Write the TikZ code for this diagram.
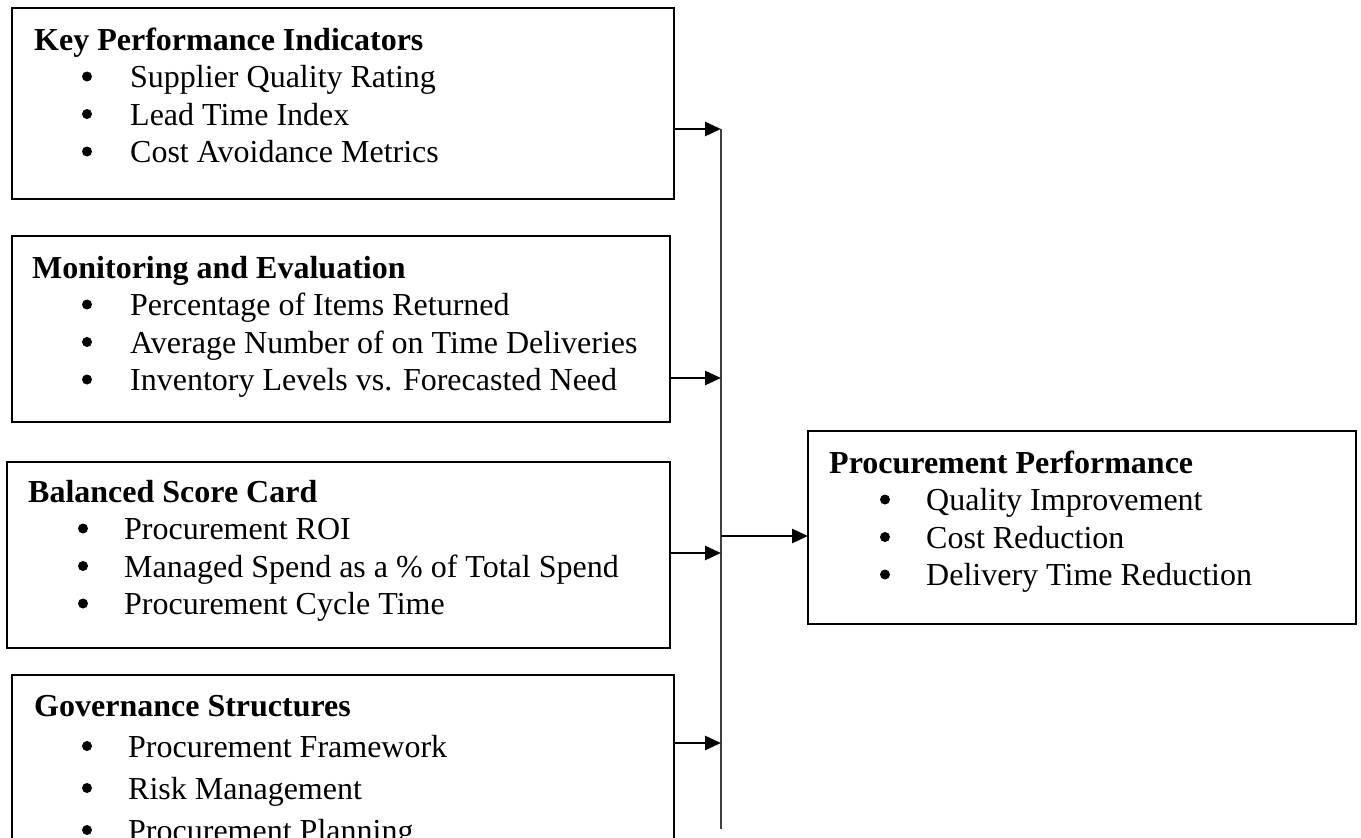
\documentclass[tikz,border=0pt]{standalone}
\usepackage{fontspec}
\setmainfont{Liberation Serif}
\usetikzlibrary{arrows.meta}
\begin{document}
\begin{tikzpicture}[x=1pt,y=-1pt,
  box/.style={draw=black, line width=2pt, anchor=north west, inner sep=0, outer sep=0},
  head/.style={anchor=base west, inner sep=0, font=\fontsize{32}{38}\selectfont\bfseries},
  item/.style={anchor=base west, inner sep=0, font=\fontsize{32}{38}\selectfont},
  dot/.style={circle, fill=black, inner sep=0, minimum size=10pt},
  arr/.style={line width=2.8pt, -{Triangle[length=16pt,width=14pt]}},
  bus/.style={line width=1.4pt, draw=black!75}]
\useasboundingbox (0,0) rectangle (1361,838);
\clip (0,0) rectangle (1361,838);

% boxes
\node[box, minimum width=662pt, minimum height=191pt] (kpi) at (12,8) {};
\node[box, minimum width=658pt, minimum height=186pt] (me) at (12,236) {};
\node[box, minimum width=663pt, minimum height=186pt] (bsc) at (7,462) {};
\node[box, minimum width=662pt, minimum height=200pt] (gs) at (12,675) {};
\node[box, minimum width=548pt, minimum height=193pt] (pp) at (808,431) {};

% contents
\node[head] (kpi-h) at (34,50) {Key Performance Indicators};
\foreach \t [count=\i] in {Supplier Quality Rating, Lead Time Index, Cost Avoidance Metrics}{
  \node[dot] (kpi-d\i) at (87,50+37.5*\i-11) {};
  \node[item] (kpi-t\i) at (130,50+37.5*\i) {\t};
}
\node[head] (me-h) at (32,278) {Monitoring and Evaluation};
\foreach \t [count=\i] in {Percentage of Items Returned, Average Number of on Time Deliveries, Inventory Levels vs. Forecasted Need}{
  \node[dot] (me-d\i) at (87,278+37.5*\i-11) {};
  \node[item] (me-t\i) at (130,278+37.5*\i) {\t};
}
\node[head] (bsc-h) at (28,502) {Balanced Score Card};
\foreach \t [count=\i] in {Procurement ROI, Managed Spend as a \% of Total Spend, Procurement Cycle Time}{
  \node[dot] (bsc-d\i) at (83,502+37.5*\i-11) {};
  \node[item] (bsc-t\i) at (124,502+37.5*\i) {\t};
}
\node[head] (gs-h) at (34,716) {Governance Structures};
\foreach \t [count=\i] in {Procurement Framework, Risk Management, Procurement Planning}{
  \node[dot] (gs-d\i) at (87,715+42*\i-11) {};
  \node[item] (gs-t\i) at (128,715+42*\i) {\t};
}
\node[head] (pp-h) at (829,473) {Procurement Performance};
\foreach \t [count=\i] in {Quality Improvement, Cost Reduction, Delivery Time Reduction}{
  \node[dot] (pp-d\i) at (885,473+37.5*\i-11) {};
  \node[item] (pp-t\i) at (926,473+37.5*\i) {\t};
}

% bus and connectors
\coordinate (bt) at (721,129);
\coordinate (bb) at (721,829);
\coordinate (b1) at (721,129);
\coordinate (b2) at (721,378);
\coordinate (b3) at (721,553);
\coordinate (b4) at (721,743);
\coordinate (b5) at (721,536);
\draw[bus] (bt) -- (bb);
\draw[arr] (kpi.east |- b1) -- (b1);
\draw[arr] (me.east |- b2) -- (b2);
\draw[arr] (bsc.east |- b3) -- (b3);
\draw[arr] (gs.east |- b4) -- (b4);
\draw[arr] (b5) -- (pp.west |- b5);
\end{tikzpicture}
\end{document}
